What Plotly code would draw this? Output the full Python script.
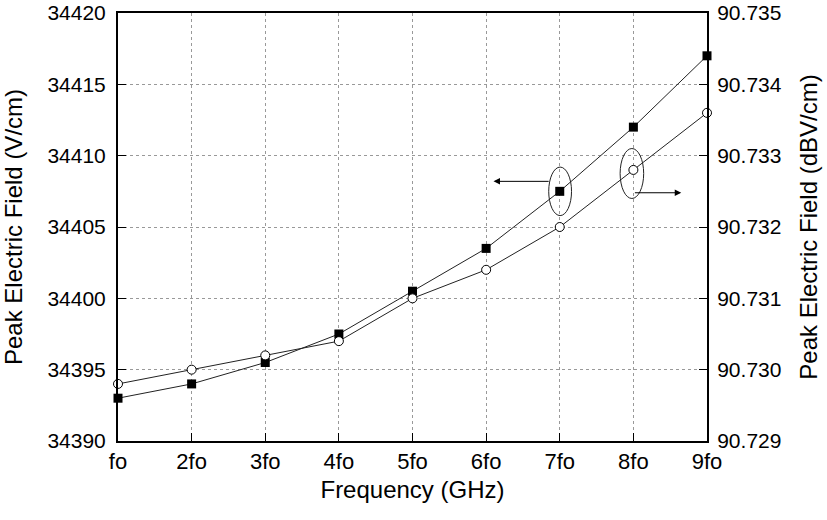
import plotly.graph_objects as go

categories = ["fo", "2fo", "3fo", "4fo", "5fo", "6fo", "7fo", "8fo", "9fo"]
field_vcm = [34393.0, 34394.0, 34395.5, 34397.5, 34400.5, 34403.5, 34407.5, 34412.0, 34417.0]
field_dbv = [90.7298, 90.7300, 90.7302, 90.7304, 90.7310, 90.7314, 90.7320, 90.7328, 90.7336]
left_ticks = [34390, 34395, 34400, 34405, 34410, 34415, 34420]
right_ticks = [90.729, 90.730, 90.731, 90.732, 90.733, 90.734, 90.735]

xpos = list(range(1, len(categories) + 1))
FONT = "Liberation Sans, Arial, sans-serif"

fig = go.Figure()
fig.add_trace(go.Scatter(x=xpos, y=field_vcm, mode="lines+markers",
                         line=dict(color="#222", width=1),
                         marker=dict(symbol="square", size=9, color="black"),
                         yaxis="y", showlegend=False, cliponaxis=False))
fig.add_trace(go.Scatter(x=xpos, y=field_dbv, mode="lines+markers",
                         line=dict(color="#222", width=1),
                         marker=dict(symbol="circle", size=9, color="white",
                                     line=dict(color="black", width=1)),
                         yaxis="y2", showlegend=False, cliponaxis=False))

grid = dict(showgrid=True, gridcolor="#999", griddash="dot", gridwidth=1)

fig.update_layout(
    width=827, height=520,
    margin=dict(l=118, r=120, t=13, b=79),
    paper_bgcolor="white", plot_bgcolor="white",
    font=dict(family=FONT, color="black", size=21),
    xaxis=dict(range=[1, 9], tickvals=xpos, ticktext=categories,
               ticks="inside", ticklen=8, tickcolor="black",
               showline=True, linecolor="black", linewidth=2, mirror=True,
               zeroline=False, automargin=False, tickfont=dict(size=22),
               ticklabeloverflow="allow",
               title=dict(text="Frequency (GHz)", font=dict(size=24), standoff=8),
               **grid),
    yaxis=dict(range=[34390, 34420], tickvals=left_ticks,
               ticktext=[str(v) for v in left_ticks],
               ticks="inside", ticklen=8, tickcolor="black",
               showline=True, linecolor="black", linewidth=2,
               zeroline=False, automargin=False, tickfont=dict(size=21),
               ticklabelstandoff=6, ticklabeloverflow="allow",
               title=dict(text="Peak Electric Field (V/cm)", font=dict(size=24), standoff=20),
               **grid),
    yaxis2=dict(range=[90.729, 90.735], tickvals=right_ticks,
                ticktext=["%.3f" % v for v in right_ticks],
                overlaying="y", side="right",
                ticks="inside", ticklen=8, tickcolor="black",
                showline=True, linecolor="black", linewidth=2,
                showgrid=False, zeroline=False, automargin=False,
                tickfont=dict(size=21), ticklabelstandoff=4,
                ticklabeloverflow="allow",
                title=dict(text="Peak Electric Field (dBV/cm)", font=dict(size=24), standoff=19)),
)

# ellipses marking the series
fig.add_shape(type="circle", xref="x", yref="y", x0=6.85, x1=7.16,
              y0=34405.8, y1=34409.2, line=dict(color="#222", width=1))
fig.add_shape(type="circle", xref="x", yref="y2", x0=7.82, x1=8.14,
              y0=90.7324, y1=90.7331, line=dict(color="#222", width=1))

# arrows
fig.add_annotation(x=6.1, y=34408.2, xref="x", yref="y", ax=6.87, ay=34408.2,
                   axref="x", ayref="y", showarrow=True, arrowhead=2,
                   arrowsize=1.3, arrowwidth=1, arrowcolor="black", text="")
fig.add_annotation(x=8.65, y=90.73248, xref="x", yref="y2", ax=8.0, ay=90.73248,
                   axref="x", ayref="y2", showarrow=True, arrowhead=2,
                   arrowsize=1.3, arrowwidth=1, arrowcolor="black", text="")

fig.write_html("out.html", config={"displayModeBar": False},
               post_script="document.body.style.margin='0';document.body.style.overflow='hidden';")
